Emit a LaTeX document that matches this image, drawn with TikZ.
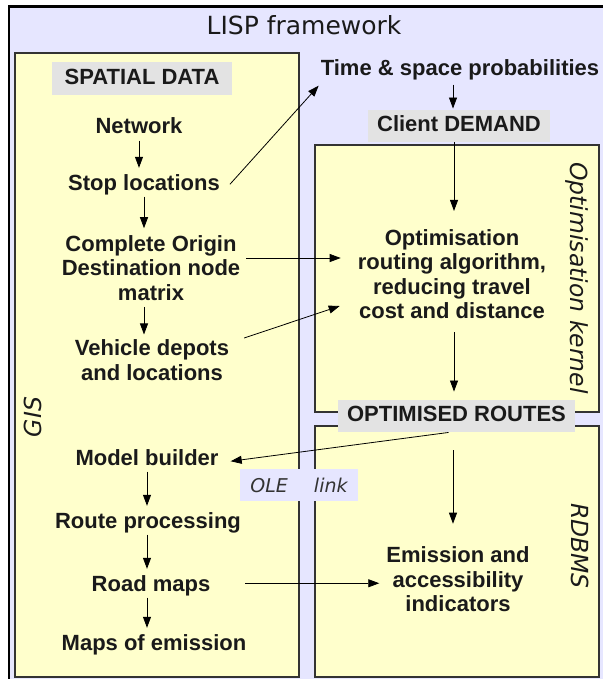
\documentclass[tikz,border=0pt]{standalone}
\usepackage{fontspec}
\setmainfont{Liberation Sans}
\newfontfamily\dv{DejaVu Sans}
\usetikzlibrary{arrows.meta}
\definecolor{lav}{HTML}{E6E6FF}
\definecolor{yel}{HTML}{FFFFCC}
\definecolor{lbl}{HTML}{E3E3E3}
\definecolor{edge}{HTML}{333333}
\definecolor{txt}{HTML}{1A1A1A}
\begin{document}
\begin{tikzpicture}[x=1pt,y=-1pt,
  every node/.style={inner sep=0pt, text=txt},
  frame/.style={draw=black, line width=2.5pt, fill=lav},
  box/.style={draw=edge, line width=1.2pt, fill=yel},
  item/.style={font=\fontsize{22}{24.5}\selectfont\bfseries, text height=16pt, text depth=4.5pt, inner ysep=2pt, inner xsep=3pt},
  multi/.style={font=\fontsize{22}{24.5}\selectfont\bfseries, align=center, inner sep=3pt},
  tag/.style={fill=lbl, font=\fontsize{22}{24.5}\selectfont\bfseries, text height=16pt, text depth=4.5pt, inner ysep=6pt},
  side/.style={font=\dv\fontsize{23.5}{28}\selectfont\itshape},
  arr/.style={-{Triangle[length=11pt,width=8pt]}, line width=0.8pt, draw=black},
]
\useasboundingbox (0,0) rectangle (602,679);
% containers
\draw[frame] (9,6.5) rectangle (660,720);
\draw[box] (15,53) rectangle (299,677);
\draw[box] (315,145) rectangle (599,412);
\draw[box] (315,426) rectangle (599,677);

% title and side labels
\node[font=\dv\fontsize{25}{30}\selectfont] (title) at (304,25) {LISP framework};
\node[side, rotate=90] (gis) at (33,417) {GIS};
\node[side, rotate=-90] (optk) at (577,278) {Optimisation kernel};
\node[side, rotate=-90] (rdbms) at (580,546) {RDBMS};

% tags
\node[tag, minimum width=180pt] (spatial) at (142,78.5) {SPATIAL DATA};
\node[tag, minimum width=182pt] (client) at (459,126) {Client DEMAND};
\node[tag, minimum width=237pt] (optroutes) at (456.5,416) {OPTIMISED ROUTES};
\node[fill=lav, minimum width=118pt, minimum height=32pt, text=edge,
      font=\dv\fontsize{19}{24.5}\selectfont\itshape] (ole) at (299,485) {OLE\hspace{20pt} link};

% left column
\node[item, anchor=base] (network) at (139,134) {Network};
\node[item, anchor=base] (stop) at (144,190) {Stop locations};
\node[multi] (complete) at (151,268) {Complete Origin\\Destination node\\matrix};
\node[multi] (vehicle) at (152,360) {Vehicle depots\\and locations};
\node[item, anchor=base] (model) at (147,465) {Model builder};
\node[item, anchor=base] (route) at (148,528) {Route processing};
\node[item, anchor=base] (road) at (151,591) {Road maps};
\node[item, anchor=base] (maps) at (154,650) {Maps of emission};

% right column
\node[item, anchor=base] (time) at (460,76) {Time \& space probabilities};
\node[multi] (opttext) at (452,274) {Optimisation\\routing algorithm,\\reducing travel\\cost and distance};
\node[multi] (emission) at (458,579.5) {Emission and\\accessibility\\indicators};

% connectors
\draw[arr, shorten >=4pt] (network.south) -- (stop.north -| network.south);
\draw[arr, shorten >=4pt] (stop.south) -- (stop.south |- complete.north);
\draw[arr, shorten <=3pt, shorten >=2pt] (complete.south -| stop.south) -- (vehicle.north -| stop.south);
\draw[arr, shorten >=4pt] (model.south) -- (model.south |- route.north);
\draw[arr, shorten >=4pt] (route.south -| model.south) -- (road.north -| model.south);
\draw[arr, shorten >=4pt] (road.south -| model.south) -- (maps.north -| model.south);

\draw[arr, shorten <=2pt, shorten >=1pt] ([xshift=-7pt]time.south) -- ([xshift=-7pt]time.south |- client.north);
\draw[arr, shorten >=15pt] ([xshift=-5pt]client.south) -- ([xshift=-5pt]client.south |- opttext.north);
\draw[arr, shorten <=10pt, shorten >=8pt] ([xshift=2pt]opttext.south) -- ([xshift=2pt]opttext.south |- optroutes.north);
\draw[arr, shorten <=18pt, shorten >=20pt] ([xshift=-3.5pt]optroutes.south) -- ([xshift=-3.5pt]optroutes.south |- emission.north);

\draw[arr] ([xshift=7pt]stop.east) -- ([xshift=1pt,yshift=-3pt]time.south west);
\draw[arr, shorten <=3pt, shorten >=14pt] ([yshift=10pt]complete.east) -- ([yshift=10pt]complete.east -| opttext.west);
\draw[arr] ([xshift=12pt,yshift=22pt]vehicle.east) -- ([xshift=-15pt,yshift=-32pt]opttext.west);
\draw[arr] ([xshift=-8pt]optroutes.south) -- ([xshift=9pt,yshift=-2pt]model.east);
\draw[arr, shorten >=36pt] ([xshift=32pt,yshift=2pt]road.east) -- ([xshift=32pt,yshift=2pt]road.east -| emission.west);
\end{tikzpicture}
\end{document}
